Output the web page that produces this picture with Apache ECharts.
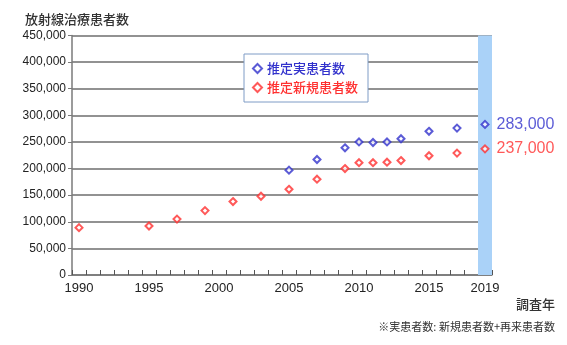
<!DOCTYPE html>
<html>
<head>
<meta charset="utf-8">
<script src="https://cdn.jsdelivr.net/npm/echarts@6/dist/echarts.min.js"></script>
<style>
  html, body { margin: 0; padding: 0; background: #fff; }
  #chart { width: 567px; height: 345px; }
</style>
</head>
<body>
<div id="chart"></div>
<script>
// Survey years shown on the category axis (one band per year)
const years = [];
for (let y = 1990; y <= 2019; y++) years.push(String(y));

// Year labels printed under the axis
const yearLabels = ['1990', '1995', '2000', '2005', '2010', '2015', '2019'];

// Estimated total patients (new + returning)
const totalYears = ['2005', '2007', '2009', '2010', '2011', '2012', '2013', '2015', '2017', '2019'];
const totalValues = [197000, 217000, 239000, 250000, 249000, 250000, 256000, 270000, 276000, 283000];

// Estimated new patients
const newYears = ['1990', '1995', '1997', '1999', '2001', '2003', '2005', '2007', '2009', '2010', '2011', '2012', '2013', '2015', '2017', '2019'];
const newValues = [89000, 92000, 105000, 121000, 138000, 148000, 161000, 180000, 200000, 211000, 211000, 212000, 215000, 224000, 229000, 237000];

// Highlighted survey year
const highlightYear = '2019';
const yMax = 450000;

const BLUE = '#3232cc';
const RED = '#ff3030';
const LATIN = 'Liberation Sans, Arial, sans-serif';
const CJK = '"Noto Sans CJK JP", "Noto Sans", sans-serif';

function fmt(v) {
  return String(v).replace(/\B(?=(\d{3})+(?!\d))/g, ',');
}

function pointsWithEndLabel(xs, vs, color) {
  return xs.map((x, i) => {
    const item = { value: [x, vs[i]] };
    if (i === xs.length - 1) {
      item.label = {
        show: true,
        position: 'right',
        distance: 7,
        color: color,
        fontSize: 16,
        fontFamily: LATIN,
        formatter: p => fmt(p.value[1])
      };
    }
    return item;
  });
}

const chart = echarts.init(document.getElementById('chart'), null, { renderer: 'canvas' });

chart.setOption({
  animation: false,
  backgroundColor: '#ffffff',
  textStyle: { fontFamily: LATIN },
  title: {
    text: '放射線治療患者数',
    left: 20,
    top: 8,
    textStyle: { fontFamily: CJK, fontSize: 13, fontWeight: 500, color: '#333333' }
  },
  grid: { left: 72, right: 75, top: 35.5, bottom: 70, containLabel: false },
  legend: {
    orient: 'vertical',
    left: 244,
    top: 54,
    width: 124,
    padding: [8, 10, 8, 8],
    itemGap: 6,
    itemWidth: 9,
    itemHeight: 9,
    backgroundColor: '#ffffff',
    borderColor: '#7f9cc6',
    borderWidth: 1,
    data: [
      { name: '推定実患者数', textStyle: { color: BLUE } },
      { name: '推定新規患者数', textStyle: { color: RED } }
    ],
    textStyle: { fontFamily: CJK, fontSize: 13, fontWeight: 500 }
  },
  xAxis: {
    type: 'category',
    data: years,
    boundaryGap: true,
    axisLine: { lineStyle: { color: '#7a7a7a', width: 1.5 } },
    axisTick: { show: true, inside: true, length: 5, interval: 0, lineStyle: { color: '#555555' } },
    axisLabel: {
      interval: 0,
      color: '#222222',
      fontSize: 13,
      margin: 7,
      formatter: v => (yearLabels.indexOf(v) >= 0 ? v : '')
    },
    splitLine: { show: false }
  },
  yAxis: {
    type: 'value',
    min: 0,
    max: yMax,
    interval: 50000,
    axisLine: { show: true, lineStyle: { color: '#7a7a7a', width: 1.5 } },
    axisTick: { show: true, length: 4, lineStyle: { color: '#7a7a7a' } },
    axisLabel: { color: '#222222', fontSize: 12, margin: 6, formatter: v => fmt(v) },
    splitLine: { show: true, lineStyle: { color: '#6e6e6e', width: 1.5 } }
  },
  series: [
    {
      // light-blue band behind the latest survey year
      name: 'highlight',
      type: 'bar',
      silent: true,
      barWidth: '100%',
      z: 1,
      itemStyle: { color: '#aad2f8' },
      data: years.map(y => (y === highlightYear ? yMax : null))
    },
    {
      name: '推定実患者数',
      type: 'scatter',
      symbol: 'emptyDiamond',
      symbolSize: 7,
      z: 5,
      itemStyle: { color: BLUE, borderColor: BLUE, borderWidth: 1.2 },
      data: pointsWithEndLabel(totalYears, totalValues, BLUE)
    },
    {
      name: '推定新規患者数',
      type: 'scatter',
      symbol: 'emptyDiamond',
      symbolSize: 7,
      z: 5,
      itemStyle: { color: RED, borderColor: RED, borderWidth: 1.2 },
      data: pointsWithEndLabel(newYears, newValues, RED)
    }
  ],
  graphic: [
    {
      type: 'text',
      right: 12,
      top: 298,
      style: { text: '調査年', font: '500 13px "Noto Sans CJK JP", sans-serif', fill: '#333333' }
    },
    {
      type: 'text',
      right: 12,
      top: 321,
      style: { text: '※実患者数: 新規患者数+再来患者数', font: '11px "Noto Sans CJK JP", sans-serif', fill: '#333333' }
    }
  ]
});
</script>
</body>
</html>
